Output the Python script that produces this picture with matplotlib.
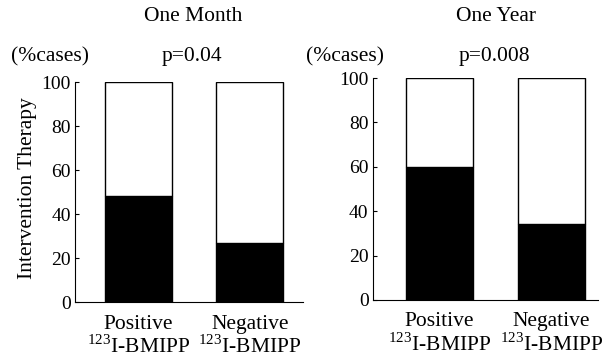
import matplotlib
matplotlib.use("Agg")
from matplotlib import pyplot as plt

# data
categories = ["Positive\n$^{123}$I-BMIPP", "Negative\n$^{123}$I-BMIPP"]
month_values = [48, 27]
year_values = [60, 34]
panel_titles = ["One Month", "One Year"]
p_values = ["p=0.04", "p=0.008"]
y_ticks = [0, 20, 40, 60, 80, 100]

plt.rcParams['font.family'] = ['Liberation Serif', 'DejaVu Serif']
plt.rcParams['mathtext.fontset'] = 'custom'
plt.rcParams['mathtext.rm'] = 'Liberation Serif'
plt.rcParams['font.size'] = 15.5

fig = plt.figure(figsize=(6.14, 3.6), dpi=100)
ax1 = fig.add_axes([0.122, 0.161, 0.371, 0.611])
ax2 = fig.add_axes([0.607, 0.167, 0.367, 0.616])


def draw_panel(ax, values, xlim):
    x = range(len(values))
    rest = [100 - v for v in values]
    ax.bar(x, values, width=0.6, color="black", edgecolor="black", linewidth=1)
    ax.bar(x, rest, bottom=values, width=0.6, color="white", edgecolor="black", linewidth=1)
    ax.set_xlim(*xlim)
    ax.set_ylim(0, 100)
    ax.set_yticks(y_ticks)
    ax.set_xticks(list(x))
    ax.set_xticklabels(categories, linespacing=1.1)
    ax.tick_params(axis="x", length=0, pad=9)
    ax.tick_params(axis="y", direction="in", length=3, pad=3, labelsize=14)
    ax.spines["top"].set_visible(False)
    ax.spines["right"].set_visible(False)


draw_panel(ax1, month_values, (-0.57, 1.475))
draw_panel(ax2, year_values, (-0.594, 1.415))

fig.text(0.314, 0.953, panel_titles[0], ha="center", va="center")
fig.text(0.312, 0.842, p_values[0], ha="center", va="center")
fig.text(0.081, 0.842, "(%cases)", ha="center", va="center")
fig.text(0.808, 0.953, panel_titles[1], ha="center", va="center")
fig.text(0.805, 0.842, p_values[1], ha="center", va="center")
fig.text(0.562, 0.842, "(%cases)", ha="center", va="center")
fig.text(0.044, 0.478, "Intervention Therapy", rotation=90, ha="center", va="center")

plt.savefig("out.png", dpi=100)
